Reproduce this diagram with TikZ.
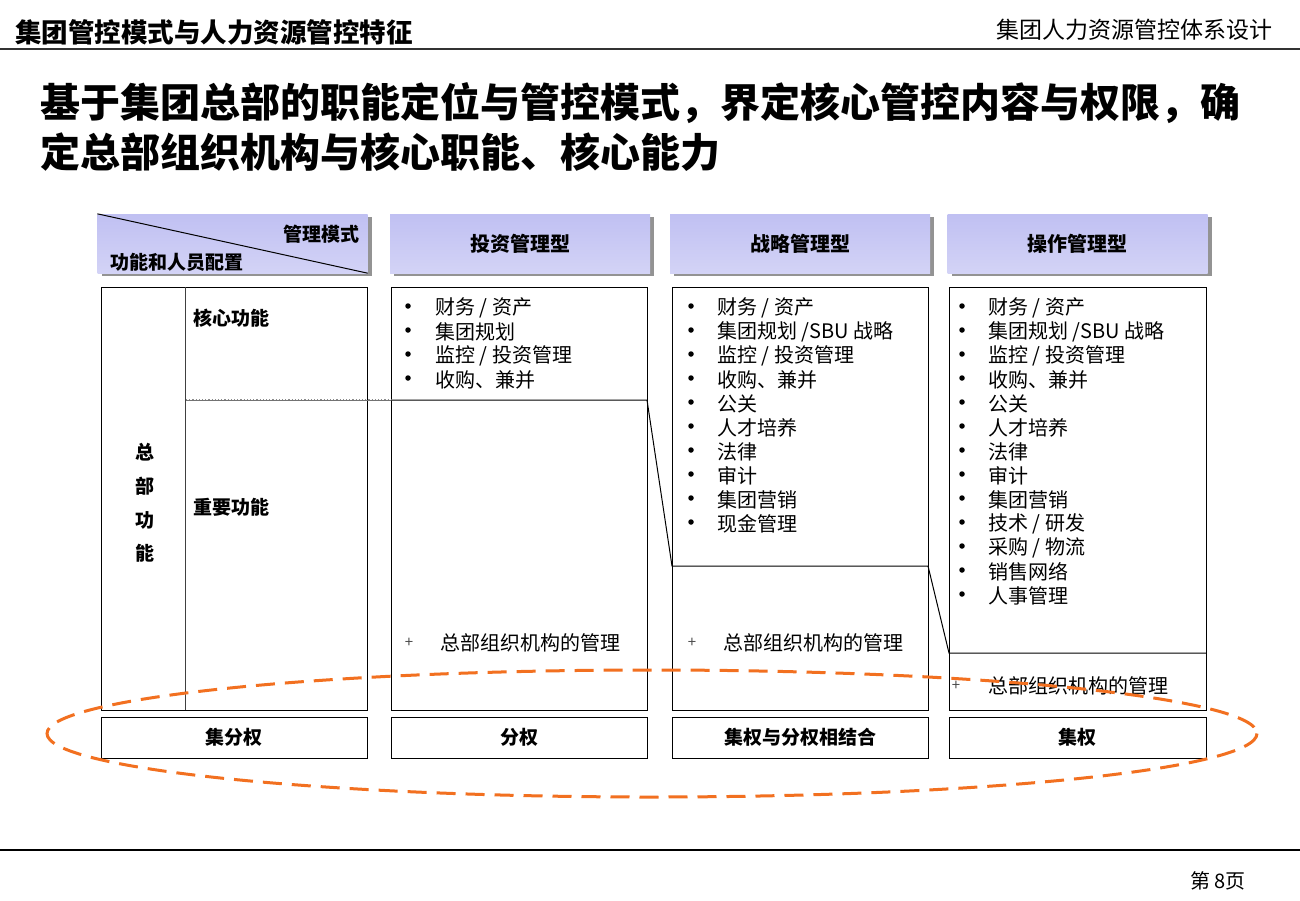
\documentclass[tikz,border=0pt]{standalone}
\usepackage{fontspec}
\setmainfont{Noto Sans CJK SC}
\usetikzlibrary{shadows}
\definecolor{hdrc}{RGB}{192,192,242}
\definecolor{orng}{RGB}{242,112,32}
\begin{document}
\begin{tikzpicture}[x=1pt,y=-1pt,
  fa/.style={font=\fontsize{#1}{#1}\selectfont},
  bfa/.style={font=\fontsize{#1}{#1}\selectfont\bfseries},
  hdrcell/.style={rectangle, inner sep=0, minimum height=59, top color=hdrc, middle color=white, bottom color=hdrc!70,
     drop shadow={shadow xshift=4pt, shadow yshift=-3pt, fill=gray!85, opacity=1}, bfa=20},
  bodybox/.style={rectangle, draw=black, line width=1, inner sep=0},
  rowbox/.style={rectangle, draw=black, line width=1, inner sep=0, minimum height=41, text height=15, text depth=1, bfa=19},
  item/.style={anchor=west, inner sep=0, fa=20, yshift=-2pt},
  bul/.style={circle, fill=black, inner sep=0, minimum size=5.5},
  plus/.style={inner sep=0, fa=15, text=black!70, yshift=-2pt},
  divline/.style={line width=1, black},
  ring/.style={draw=orng, line width=3, dash pattern=on 19pt off 10pt}]
\useasboundingbox (0,0) rectangle (1300,900);
\fill[white] (0,0) rectangle (1300,900);

% page header
\node[anchor=west, inner sep=0, bfa=26.5] (pt) at (15,32) {集团管控模式与人力资源管控特征};
\node[anchor=east, inner sep=0, fa=23] (ps) at (1273,30) {集团人力资源管控体系设计};
\coordinate (hl1) at (0,49); \coordinate (hl2) at (1300,49);
\draw[line width=1.6, black!80] (hl1) -- (hl2);

% main title
\node[anchor=west, inner sep=0, bfa=40] (t1) at (40,103) {基于集团总部的职能定位与管控模式，界定核心管控内容与权限，确};
\node[anchor=west, inner sep=0, bfa=40] (t2) at (40,152) {定总部组织机构与核心职能、核心能力};

% header cells
\node[hdrcell, minimum width=270] (h0) at (232.5,243.5) {};
\draw[line width=1] (h0.north west) -- (h0.south east);
\node[anchor=east, inner sep=0, bfa=19] (h0a) at (360,234) {管理模式};
\node[anchor=west, inner sep=0, bfa=19] (h0b) at (110,262) {功能和人员配置};
\node[hdrcell, minimum width=260] (h1) at (520,243.5) {投资管理型};
\node[hdrcell, minimum width=260] (h2) at (800,243.5) {战略管理型};
\node[hdrcell, minimum width=260] (h3) at (1077.5,243.5) {操作管理型};

% body boxes
\node[bodybox, minimum width=266, minimum height=423] (b0) at (234,498.5) {};
\node[bodybox, minimum width=256, minimum height=423] (b1) at (519,498.5) {};
\node[bodybox, minimum width=256, minimum height=423] (b2) at (800,498.5) {};
\node[bodybox, minimum width=257, minimum height=423] (b3) at (1077.5,498.5) {};
\coordinate (v0t) at (185,287); \coordinate (v0b) at (185,710);
\draw[line width=1, black!75] (v0t) -- (v0b);

% left labels
\node[anchor=west, inner sep=0, bfa=19] (lc) at (193,318) {核心功能};
\node[anchor=west, inner sep=0, bfa=19] (li) at (193,507) {重要功能};
\foreach \ch/\yy [count=\i] in {总/452,部/486,功/520,能/553}
  \node[inner sep=0, bfa=19] (zb\i) at (145,\yy) {\ch};

% dividing line
\coordinate (d0) at (186,400);
\coordinate (d1) at (391,400);
\coordinate (d2) at (647,400);
\coordinate (d3) at (672,566);
\coordinate (d4) at (928,566);
\coordinate (d5) at (949,653);
\coordinate (d6) at (1206,653);
\draw[line width=1.2, black!45, dotted] (d0) -- (d1);
\draw[line width=0.6, black!55] (d0) -- (d1);
\draw[divline] (d1) -- (d2) -- (d3) -- (d4) -- (d5) -- (d6);

% investment list
\foreach \t [count=\i] in {财务 / 资产,集团规划,监控 / 投资管理,收购、兼并}{
  \node[bul] (ib\i) at (408,306+24*\i-24) {};
  \node[item] (it\i) at (435,306+24*\i-24) {\t};
}
\node[plus] (ip) at (409,641) {+};
\node[item] (ix) at (440,641) {总部组织机构的管理};

% strategy list
\foreach \t [count=\i] in {财务 / 资产,集团规划 /SBU 战略,监控 / 投资管理,收购、兼并,公关,人才培养,法律,审计,集团营销,现金管理}{
  \node[bul] (sb\i) at (691,306+24*\i-24) {};
  \node[item] (st\i) at (717,306+24*\i-24) {\t};
}
\node[plus] (sp) at (692,641) {+};
\node[item] (sx) at (723,641) {总部组织机构的管理};

% operation list
\foreach \t [count=\i] in {财务 / 资产,集团规划 /SBU 战略,监控 / 投资管理,收购、兼并,公关,人才培养,法律,审计,集团营销,技术 / 研发,采购 / 物流,销售网络,人事管理}{
  \node[bul] (ob\i) at (962,306+24*\i-24) {};
  \node[item] (ot\i) at (988,306+24*\i-24) {\t};
}
\node[plus] (op) at (956,684) {+};
\node[item] (ox) at (988,684) {总部组织机构的管理};

% bottom row
\node[rowbox, minimum width=266] (r0) at (234,737.5) {集分权};
\node[rowbox, minimum width=256] (r1) at (519,737.5) {分权};
\node[rowbox, minimum width=256] (r2) at (800,737.5) {集权与分权相结合};
\node[rowbox, minimum width=257] (r3) at (1077.5,737.5) {集权};

% orange ring
\draw[ring] (652,733.5) ellipse [x radius=605, y radius=63.5];

% footer
\coordinate (fl1) at (0,850); \coordinate (fl2) at (1300,850);
\draw[line width=2, black] (fl1) -- (fl2);
\node[anchor=east, inner sep=0, fa=20] (pg) at (1246,881) {第 8页};
\end{tikzpicture}
\end{document}
